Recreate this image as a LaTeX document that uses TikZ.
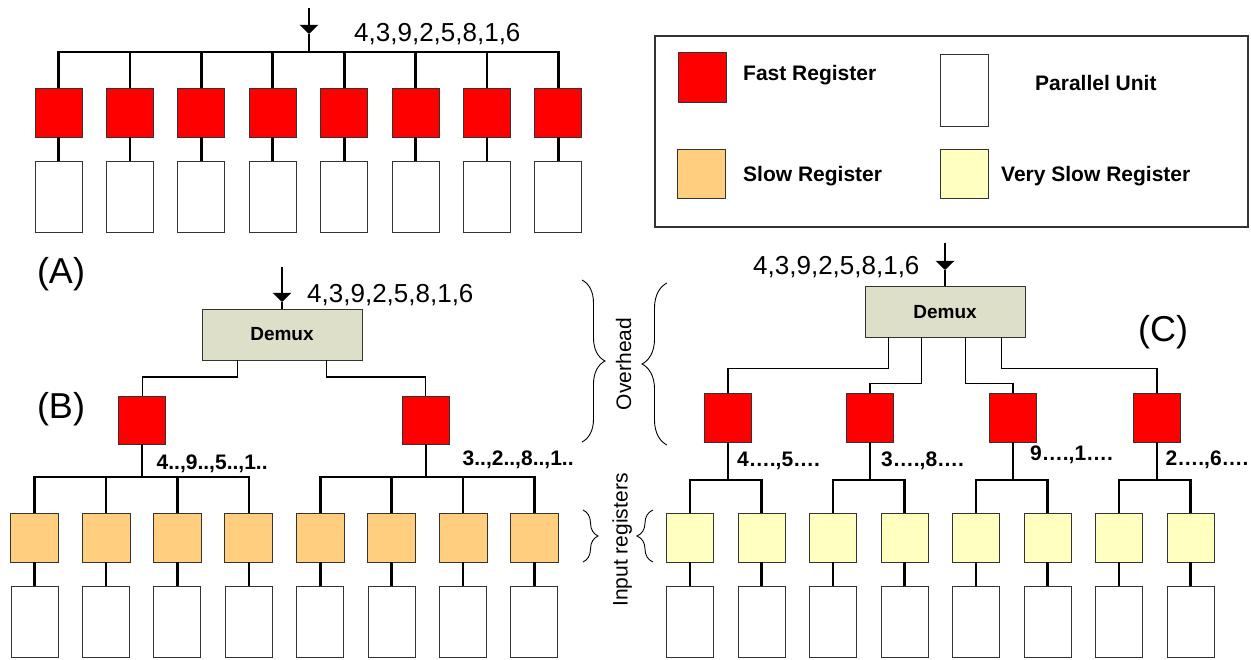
\documentclass[tikz,border=0pt]{standalone}
\usepackage{fontspec}
\setmainfont{Liberation Sans}
\usetikzlibrary{arrows.meta,decorations.pathreplacing}
\definecolor{regred}{RGB}{255,0,0}
\definecolor{regorange}{RGB}{255,207,127}
\definecolor{regyellow}{RGB}{255,255,192}
\definecolor{demuxfill}{RGB}{221,223,200}
\begin{document}
\begin{tikzpicture}[x=1pt,y=-1pt,
  box/.style={draw=black!80, line width=0.9pt, inner sep=0pt, outer sep=0pt},
  fastreg/.style={box, fill=regred, minimum width=47pt, minimum height=49pt},
  slowreg/.style={box, fill=regorange, minimum width=48pt, minimum height=49pt},
  vslowreg/.style={box, fill=regyellow, minimum width=47pt, minimum height=49pt},
  punit/.style={box, fill=white, minimum width=47pt, minimum height=71pt},
  demuxbox/.style={box, fill=demuxfill, minimum width=160pt, minimum height=51pt,
     font=\fontsize{19}{22}\selectfont\bfseries},
  wireA/.style={line width=2.8pt},
  wire/.style={line width=2.6pt},
  wiremid/.style={line width=1.8pt},
  wirethin/.style={line width=1.3pt},
  intip/.style={-{Triangle[width=18pt,length=9pt]}},
  seq/.style={inner sep=0pt, anchor=west, font=\fontsize{26}{30}\selectfont, text height=19pt, text depth=0pt},
  lbl/.style={inner sep=0pt, anchor=west, font=\fontsize{21}{25}\selectfont\bfseries, text height=15pt, text depth=0pt},
  panel/.style={inner sep=0pt, font=\fontsize{36}{40}\selectfont, text height=26pt, text depth=0pt},
  side/.style={inner sep=0pt, rotate=90, font=\fontsize{21}{25}\selectfont, text height=15pt, text depth=0pt},
  brc/.style={decorate, line width=0.9pt}
]
\useasboundingbox (0,0) rectangle (1251,660);

% ---------------- (A) ----------------
\foreach \i in {1,...,8} {
  \pgfmathsetmacro\xx{58.5+71.4*(\i-1)}
  \node[fastreg] (aR\i) at (\xx,112.5) {};
  \node[punit] (aP\i) at (\xx,197) {};
  \draw[wireA] (aR\i.south) -- (aP\i.north);
}
\coordinate (busA) at (309,52);
\coordinate (inA) at (309,8);
\coordinate (tipA) at (309,34);
\draw[wireA] (aR1.north) -- (aR1.north |- busA) -- (aR8.north |- busA) -- (aR8.north);
\foreach \i in {2,...,7} \draw[wireA] (aR\i.north |- busA) -- (aR\i.north);
\draw[wireA, intip] (inA) -- (tipA);
\draw[wireA] (tipA) -- (busA);
\node[seq] (seqA) at (354,32) {4,3,9,2,5,8,1,6};

\node[panel] (labA) at (61,270.5) {(A)};
\node[panel] (labB) at (61,405) {(B)};
\node[panel] (labC) at (1163,328.5) {(C)};

% ---------------- Legend ----------------
\node[box, line width=1.4pt, fill=none, minimum width=593pt, minimum height=191pt] (legend) at (951.5,131.5) {};
\node[fastreg, minimum width=48pt, minimum height=50pt] (lgR) at (702,77) {};
\node[lbl] (lgRt) at (743,73.5) {Fast Register};
\node[punit, minimum width=48pt, minimum height=72pt] (lgP) at (964,90) {};
\node[lbl] (lgPt) at (1035,83) {Parallel Unit};
\node[slowreg] (lgS) at (701.5,173.5) {};
\node[lbl] (lgSt) at (743,174) {Slow Register};
\node[vslowreg, minimum width=48pt] (lgV) at (964,173.5) {};
\node[lbl] (lgVt) at (1001,174) {Very Slow Register};

% ---------------- (B) ----------------
\node[demuxbox] (demB) at (282,334.5) {Demux};
\coordinate (inB) at (282,267);
\coordinate (tipB) at (282,302);
\draw[wireA, intip] (inB) -- (tipB);
\draw[wireA] (tipB) -- (demB.north);
\node[seq] (seqB) at (307,293) {4,3,9,2,5,8,1,6};

\node[fastreg, minimum height=48pt] (rB1) at (142.3,420) {};
\node[fastreg, minimum height=48pt] (rB2) at (425.7,420) {};
\coordinate (dB1) at ([xshift=-44.5pt]demB.south);
\coordinate (dB2) at ([xshift=44.5pt]demB.south);
\draw[wirethin] (dB1) -- ++(0,17) -| (rB1.north);
\draw[wirethin] (dB2) -- ++(0,17) -| (rB2.north);

\foreach \i in {1,...,8} {
  \pgfmathsetmacro\xx{34.6+71.4*(\i-1)}
  \node[slowreg] (sB\i) at (\xx,537.5) {};
  \node[punit] (pB\i) at (\xx,621.5) {};
  \draw[wire] (sB\i.south) -- (pB\i.north);
}
\coordinate (busB) at (0,477);
\draw[wire] (sB1.north) -- (sB1.north |- busB) -- (sB4.north |- busB) -- (sB4.north);
\draw[wire] (sB5.north) -- (sB5.north |- busB) -- (sB8.north |- busB) -- (sB8.north);
\foreach \i in {2,3,6,7} \draw[wire] (sB\i.north |- busB) -- (sB\i.north);
\draw[wiremid] (rB1.south) -- (rB1.south |- busB);
\draw[wiremid] (rB2.south) -- (rB2.south |- busB);
\node[lbl] (txB1) at (156.5,462) {4..,9..,5..,1..};
\node[lbl] (txB2) at (462.5,458) {3..,2..,8..,1..};

% ---------------- (C) ----------------
\node[demuxbox] (demC) at (945,312) {Demux};
\coordinate (inC) at (945,243);
\coordinate (tipC) at (945,270);
\draw[wireA, intip] (inC) -- (tipC);
\draw[wireA] (tipC) -- (demC.north);
\node[seq] (seqC) at (753,265) {4,3,9,2,5,8,1,6};

\node[fastreg] (rC1) at (728,417.5) {};
\node[fastreg] (rC2) at (870,417.5) {};
\node[fastreg] (rC3) at (1013,417.5) {};
\node[fastreg] (rC4) at (1157,417.5) {};
\coordinate (dC1) at ([xshift=-56.3pt]demC.south);
\coordinate (dC2) at ([xshift=-23.7pt]demC.south);
\coordinate (dC3) at ([xshift=20.7pt]demC.south);
\coordinate (dC4) at ([xshift=56.7pt]demC.south);
\draw[wirethin] (dC1) -- ++(0,31) -| (rC1.north);
\draw[wirethin] (dC2) -- ++(0,46) -| (rC2.north);
\draw[wirethin] (dC3) -- ++(0,46) -| (rC3.north);
\draw[wirethin] (dC4) -- ++(0,31) -| (rC4.north);

\foreach \i in {1,...,8} {
  \pgfmathsetmacro\xx{690+71.5*(\i-1)}
  \node[vslowreg] (vC\i) at (\xx,537.5) {};
  \node[punit] (pC\i) at (\xx,621.5) {};
  \draw[wire] (vC\i.south) -- (pC\i.north);
}
\coordinate (busC) at (0,480);
\draw[wire] (vC1.north) -- (vC1.north |- busC) -- (vC2.north |- busC) -- (vC2.north);
\draw[wire] (vC3.north) -- (vC3.north |- busC) -- (vC4.north |- busC) -- (vC4.north);
\draw[wire] (vC5.north) -- (vC5.north |- busC) -- (vC6.north |- busC) -- (vC6.north);
\draw[wire] (vC7.north) -- (vC7.north |- busC) -- (vC8.north |- busC) -- (vC8.north);
\foreach \i in {1,...,4} \draw[wirethin] (rC\i.south) -- (rC\i.south |- busC);
\node[lbl] (txC1) at (737,459) {4….,5….};
\node[lbl] (txC2) at (881,459) {3….,8….};
\node[lbl] (txC3) at (1030,453) {9….,1….};
\node[lbl] (txC4) at (1165.5,458) {2….,6….};

% ---------------- Braces & side labels ----------------
\draw[brc, decoration={brace, amplitude=23pt}] (582,280) -- (582,442);
\draw[brc, decoration={brace, amplitude=25pt}] (667,445) -- (667,283);
\node[side] (ovh) at (623.5,364) {Overhead};
\draw[brc, decoration={brace, amplitude=15pt}] (583,510) -- (583,562);
\draw[brc, decoration={brace, amplitude=16pt}] (653,562) -- (653,510);
\node[side] (inreg) at (620,540) {Input registers};
\end{tikzpicture}
\end{document}
